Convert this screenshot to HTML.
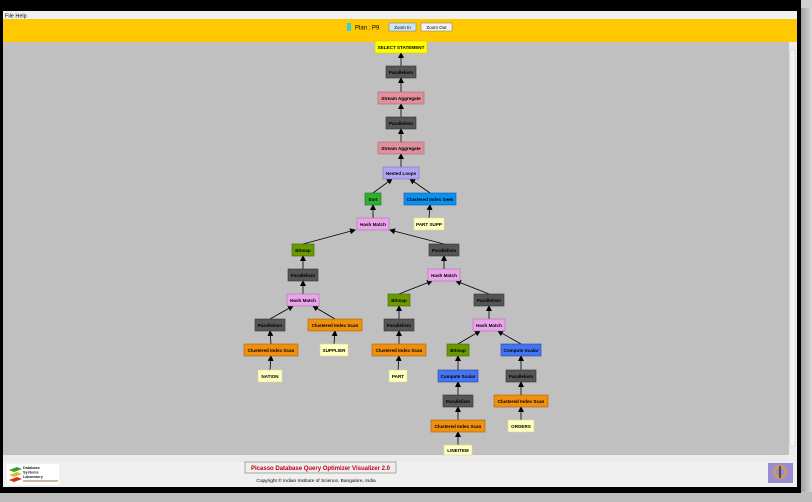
<!DOCTYPE html>
<html><head><meta charset="utf-8"><style>
html,body{margin:0;padding:0;width:812px;height:502px;overflow:hidden;background:#c8c8c8;}
</style></head><body>
<svg width="812" height="502" viewBox="0 0 812 502" xmlns="http://www.w3.org/2000/svg" font-family="Liberation Sans, sans-serif">
<defs>
<marker id="ar" markerWidth="6" markerHeight="6" refX="5" refY="3" orient="auto" markerUnits="userSpaceOnUse"><path d="M0,0 L6,3 L0,6 z" fill="#000"/></marker>
<linearGradient id="sh" x1="0" y1="0" x2="1" y2="0"><stop offset="0" stop-color="#9a9a9a"/><stop offset="1" stop-color="#d8d8d8"/></linearGradient>
</defs>
<rect x="0" y="0" width="812" height="502" fill="#d0d0d0"/>
<rect x="800" y="8" width="12" height="494" fill="url(#sh)"/>
<rect x="0" y="492" width="812" height="10" fill="#bdbdbd"/>
<rect x="0" y="0" width="801" height="493" fill="#000"/>
<!-- window -->
<rect x="3" y="11" width="794" height="476" fill="#eeeeee"/>
<rect x="3" y="11" width="794" height="8" fill="#eef0f4"/>
<text x="5" y="17.5" font-size="5.5" fill="#000">File  Help</text>
<rect x="3" y="19" width="794" height="23" fill="#ffc800"/>
<rect x="347" y="23" width="4" height="8" fill="#30d0e0"/>
<text x="355" y="29.5" font-size="6" fill="#000">Plan : P9</text>
<rect x="389" y="23" width="27" height="8" fill="#cfe4f4" stroke="#6a8aa8" stroke-width="0.6"/>
<text x="402.5" y="29" font-size="4.5" text-anchor="middle">Zoom In</text>
<rect x="421" y="23" width="31" height="8" fill="#f2f2f2" stroke="#888" stroke-width="0.6"/>
<text x="436.5" y="29" font-size="4.5" text-anchor="middle">Zoom Out</text>
<!-- canvas -->
<rect x="3" y="42" width="786" height="413" fill="#c0c0c0"/>
<rect x="789" y="42" width="7" height="413" fill="#eaeaea"/>
<rect x="790" y="50" width="5" height="396" fill="#f4f4f4" stroke="#bbb" stroke-width="0.4"/>
<rect x="3" y="455" width="786" height="7" fill="#eaeaea"/>
<rect x="3" y="462" width="794" height="25" fill="#f0f0f0"/>
<!-- edges -->
<g stroke="#000" stroke-width="0.8" marker-end="url(#ar)">
<line x1="401" y1="66" x2="401" y2="53"/>
<line x1="401" y1="92" x2="401" y2="78"/>
<line x1="401" y1="117" x2="401" y2="104"/>
<line x1="401" y1="142" x2="401" y2="129"/>
<line x1="401" y1="167" x2="401" y2="154"/>
<line x1="373" y1="193" x2="392" y2="179"/>
<line x1="430" y1="193" x2="410" y2="179"/>
<line x1="429" y1="218" x2="430" y2="205"/>
<line x1="373" y1="218" x2="373" y2="205"/>
<line x1="303" y1="244" x2="355" y2="230"/>
<line x1="444" y1="244" x2="390" y2="230"/>
<line x1="303" y1="269" x2="303" y2="256"/>
<line x1="444" y1="269" x2="444" y2="256"/>
<line x1="303" y1="294" x2="303" y2="281"/>
<line x1="399" y1="294" x2="432" y2="281"/>
<line x1="489" y1="294" x2="456" y2="281"/>
<line x1="270" y1="319" x2="293" y2="306"/>
<line x1="335" y1="319" x2="313" y2="306"/>
<line x1="399" y1="319" x2="399" y2="306"/>
<line x1="489" y1="319" x2="489" y2="306"/>
<line x1="271" y1="344" x2="270" y2="331"/>
<line x1="334" y1="344" x2="335" y2="331"/>
<line x1="399" y1="344" x2="399" y2="331"/>
<line x1="458" y1="344" x2="480" y2="331"/>
<line x1="521" y1="344" x2="498" y2="331"/>
<line x1="270" y1="370" x2="271" y2="356"/>
<line x1="398" y1="370" x2="399" y2="356"/>
<line x1="458" y1="370" x2="458" y2="356"/>
<line x1="521" y1="370" x2="521" y2="356"/>
<line x1="458" y1="395" x2="458" y2="382"/>
<line x1="521" y1="395" x2="521" y2="382"/>
<line x1="458" y1="420" x2="458" y2="407"/>
<line x1="521" y1="420" x2="521" y2="407"/>
<line x1="458" y1="445" x2="458" y2="432"/>
</g>
<!-- nodes -->
<g font-size="4.6" font-weight="bold" text-anchor="middle" stroke-width="0.6">
<rect x="375" y="41" width="52" height="12" fill="#ffff00" stroke="#d8c800"/><text x="401" y="49">SELECT STATEMENT</text>
<rect x="386" y="66" width="30" height="12" fill="#555" stroke="#333"/><text x="401" y="74">Parallelism</text>
<rect x="378" y="92" width="46" height="12" fill="#e0909c" stroke="#b06070"/><text x="401" y="100">Stream Aggregate</text>
<rect x="386" y="117" width="30" height="12" fill="#555" stroke="#333"/><text x="401" y="125">Parallelism</text>
<rect x="378" y="142" width="46" height="12" fill="#e0909c" stroke="#b06070"/><text x="401" y="150">Stream Aggregate</text>
<rect x="383" y="167" width="36" height="12" fill="#b0a4f4" stroke="#8070c0"/><text x="401" y="175">Nested Loops</text>
<rect x="365" y="193" width="16" height="12" fill="#30b030" stroke="#207020"/><text x="373" y="201">Sort</text>
<rect x="404" y="193" width="52" height="12" fill="#0a90f0" stroke="#0060b0"/><text x="430" y="201">Clustered Index Seek</text>
<rect x="414" y="218" width="30" height="12" fill="#ffffc0" stroke="#d8d890"/><text x="429" y="226">PART SUPP</text>
<rect x="357" y="218" width="32" height="12" fill="#eaa4ea" stroke="#b070b0"/><text x="373" y="226">Hash Match</text>
<rect x="292" y="244" width="22" height="12" fill="#6a9a00" stroke="#406000"/><text x="303" y="252">Bitmap</text>
<rect x="429" y="244" width="30" height="12" fill="#555" stroke="#333"/><text x="444" y="252">Parallelism</text>
<rect x="288" y="269" width="30" height="12" fill="#555" stroke="#333"/><text x="303" y="277">Parallelism</text>
<rect x="428" y="269" width="32" height="12" fill="#eaa4ea" stroke="#b070b0"/><text x="444" y="277">Hash Match</text>
<rect x="287" y="294" width="32" height="12" fill="#eaa4ea" stroke="#b070b0"/><text x="303" y="302">Hash Match</text>
<rect x="388" y="294" width="22" height="12" fill="#6a9a00" stroke="#406000"/><text x="399" y="302">Bitmap</text>
<rect x="474" y="294" width="30" height="12" fill="#555" stroke="#333"/><text x="489" y="302">Parallelism</text>
<rect x="255" y="319" width="30" height="12" fill="#555" stroke="#333"/><text x="270" y="327">Parallelism</text>
<rect x="308" y="319" width="54" height="12" fill="#f09010" stroke="#b06000"/><text x="335" y="327">Clustered Index Scan</text>
<rect x="384" y="319" width="30" height="12" fill="#555" stroke="#333"/><text x="399" y="327">Parallelism</text>
<rect x="473" y="319" width="32" height="12" fill="#eaa4ea" stroke="#b070b0"/><text x="489" y="327">Hash Match</text>
<rect x="244" y="344" width="54" height="12" fill="#f09010" stroke="#b06000"/><text x="271" y="352">Clustered Index Scan</text>
<rect x="320" y="344" width="28" height="12" fill="#ffffc0" stroke="#d8d890"/><text x="334" y="352">SUPPLIER</text>
<rect x="372" y="344" width="54" height="12" fill="#f09010" stroke="#b06000"/><text x="399" y="352">Clustered Index Scan</text>
<rect x="447" y="344" width="22" height="12" fill="#6a9a00" stroke="#406000"/><text x="458" y="352">Bitmap</text>
<rect x="501" y="344" width="40" height="12" fill="#4474f0" stroke="#2040b0"/><text x="521" y="352">Compute Scalar</text>
<rect x="258" y="370" width="24" height="12" fill="#ffffc0" stroke="#d8d890"/><text x="270" y="378">NATION</text>
<rect x="389" y="370" width="18" height="12" fill="#ffffc0" stroke="#d8d890"/><text x="398" y="378">PART</text>
<rect x="438" y="370" width="40" height="12" fill="#4474f0" stroke="#2040b0"/><text x="458" y="378">Compute Scalar</text>
<rect x="506" y="370" width="30" height="12" fill="#555" stroke="#333"/><text x="521" y="378">Parallelism</text>
<rect x="443" y="395" width="30" height="12" fill="#555" stroke="#333"/><text x="458" y="403">Parallelism</text>
<rect x="494" y="395" width="54" height="12" fill="#f09010" stroke="#b06000"/><text x="521" y="403">Clustered Index Scan</text>
<rect x="431" y="420" width="54" height="12" fill="#f09010" stroke="#b06000"/><text x="458" y="428">Clustered Index Scan</text>
<rect x="508" y="420" width="26" height="12" fill="#ffffc0" stroke="#d8d890"/><text x="521" y="428">ORDERS</text>
<rect x="444" y="445" width="28" height="10" fill="#ffffc0" stroke="#d8d890"/><text x="458" y="452">LINEITEM</text>
</g>
<!-- footer -->
<rect x="7" y="464" width="52" height="21" fill="#fff"/>
<path d="M9,470 l8,-3 l5,2 l-8,3z" fill="#30a030"/>
<path d="M9,475 l8,-3 l5,2 l-8,3z" fill="#e0c020"/>
<path d="M9,480 l8,-3 l5,2 l-8,3z" fill="#d03020"/>
<text x="23" y="469" font-size="3.8" font-weight="bold" fill="#223">Database</text>
<text x="23" y="473.5" font-size="3.8" font-weight="bold" fill="#223">Systems</text>
<text x="23" y="478" font-size="3.8" font-weight="bold" fill="#223">Laboratory</text>
<rect x="23" y="480" width="35" height="2" fill="#c8b8a0"/>
<rect x="245" y="462" width="151" height="11" fill="#eeeeee" stroke="#888" stroke-width="0.7"/>
<text x="320.5" y="470" font-size="6" font-weight="bold" fill="#c00010" text-anchor="middle">Picasso Database Query Optimizer Visualizer 2.0</text>
<text x="316" y="482" font-size="4.8" fill="#000" text-anchor="middle">Copyright © Indian Institute of Science, Bangalore, India</text>
<rect x="768" y="463" width="25" height="20" fill="#9a8ad0"/>
<circle cx="780" cy="472" r="7" fill="#c8a060"/>
<circle cx="780" cy="472" r="4.5" fill="#9a8ad0"/>
<rect x="779" y="466" width="2" height="12" fill="#6a4a20"/>
</svg>
</body></html>
